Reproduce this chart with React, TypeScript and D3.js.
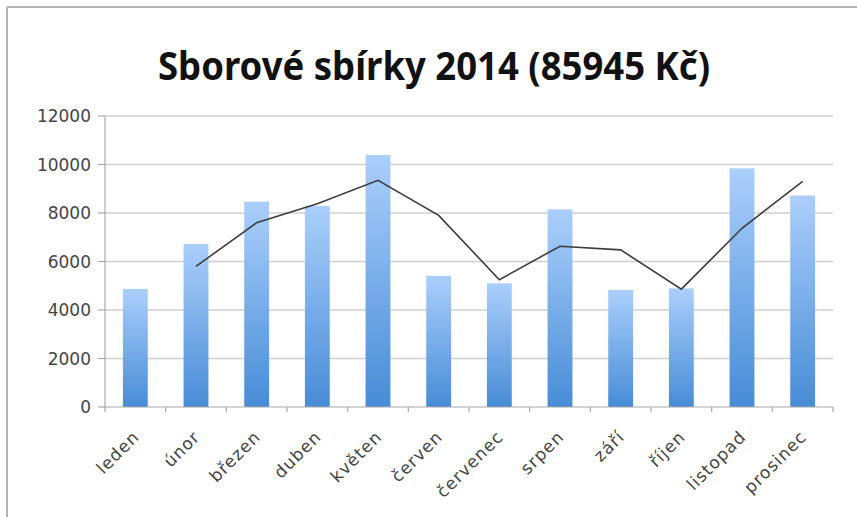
import React from "react";
import * as d3 from "d3";

const months = ["leden", "únor", "březen", "duben", "květen", "červen", "červenec", "srpen", "září", "říjen", "listopad", "prosinec"];
const amounts = [4870, 6720, 8470, 8290, 10390, 5410, 5100, 8150, 4830, 4890, 9840, 8720];
const trend: (number | null)[] = [null, 5800, 7600, 8380, 9350, 7900, 5250, 6630, 6480, 4860, 7370, 9300];
const yTicks = [0, 2000, 4000, 6000, 8000, 10000, 12000];
const title = "Sborové sbírky 2014 (85945 Kč)";

const W = 857, H = 517;
const left = 105, right = 833, top = 116, bottom = 407;

export default function App() {
  const x = d3.scaleBand<string>().domain(months).range([left, right]).paddingInner(0.59).paddingOuter(0.295);
  const y = d3.scaleLinear().domain([0, 12000]).range([bottom, top]);
  const step = (right - left) / months.length;
  const line = d3.line<number | null>()
    .defined((d) => d !== null)
    .x((_, i) => (x(months[i]) as number) + x.bandwidth() / 2)
    .y((d) => y(d as number));
  const boundaries = d3.range(months.length + 1).map((i) => left + i * step);
  const labelFont = "'DejaVu Sans', sans-serif";
  return (
    <svg width={W} height={H} style={{ position: "fixed", left: 0, top: 0, background: "#fff" }}>
      <defs>
        <linearGradient id="barGrad" x1="0" y1="0" x2="0" y2="1">
          <stop offset="0%" stopColor="#abcffc" />
          <stop offset="100%" stopColor="#478cd6" />
        </linearGradient>
      </defs>
      <rect x={0} y={0} width={W} height={H} fill="#fff" />
      <line x1={7} y1={7} x2={W} y2={7} stroke="#b4b4b4" strokeWidth={2} />
      <line x1={7} y1={7} x2={7} y2={H} stroke="#b4b4b4" strokeWidth={2} />
      <text x={434} y={80} textAnchor="middle" fontFamily="'Noto Sans', sans-serif" fontWeight="bold" fontSize={40}
        textLength={552} lengthAdjust="spacingAndGlyphs" fill="#111">{title}</text>
      {yTicks.map((t) => (
        <g key={t}>
          {t > 0 && <line x1={left} x2={right} y1={y(t)} y2={y(t)} stroke="#cfcfcf" strokeWidth={1.5} />}
          <line x1={left - 7} x2={left} y1={y(t)} y2={y(t)} stroke="#a8a8a8" strokeWidth={1.2} />
          <text x={91} y={y(t)} dy="0.38em" textAnchor="end" fontFamily={labelFont} fontSize={17} fill="#444">{t}</text>
        </g>
      ))}
      {amounts.map((v, i) => (
        <rect key={months[i]} x={x(months[i])} y={y(v)} width={x.bandwidth()} height={bottom - y(v)} fill="url(#barGrad)" />
      ))}
      <line x1={left} x2={left} y1={top} y2={bottom} stroke="#a8a8a8" strokeWidth={1.2} />
      <line x1={left} x2={right} y1={bottom} y2={bottom} stroke="#a8a8a8" strokeWidth={1.2} />
      {boundaries.map((b, i) => (
        <line key={i} x1={b} x2={b} y1={bottom} y2={bottom + 5} stroke="#a8a8a8" strokeWidth={1.2} />
      ))}
      <path d={line(trend) || ""} fill="none" stroke="#3c3c3c" strokeWidth={1.6} />
      {months.map((m) => {
        const cx = (x(m) as number) + x.bandwidth() / 2 + 5;
        const cy = bottom + 31;
        return (
          <text key={m} x={cx} y={cy} textAnchor="end" fontFamily={labelFont} fontSize={17} letterSpacing={1} fill="#444"
            transform={`rotate(-45 ${cx} ${cy})`}>{m}</text>
        );
      })}
    </svg>
  );
}
